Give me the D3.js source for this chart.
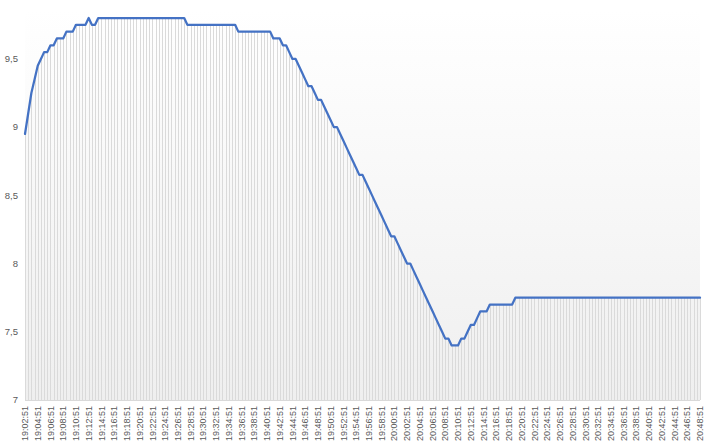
<!DOCTYPE html>
<html>
<head>
<meta charset="utf-8">
<script src="https://cdn.jsdelivr.net/npm/d3@7"></script>
<style>
  html, body { margin: 0; padding: 0; background: #ffffff; }
  svg { display: block; }
  text { font-family: "Liberation Sans", Arial, sans-serif; fill: #595959; }
</style>
</head>
<body>
<svg id="chart" width="707" height="445"></svg>
<script>
// ---- data ----
const startTime = "19:02:51";
const stepSeconds = 30;
const values = [
  8.95, 9.1, 9.25, 9.35, 9.45, 9.5, 9.55, 9.55, 9.6, 9.6,
  9.65, 9.65, 9.65, 9.7, 9.7, 9.7, 9.75, 9.75, 9.75, 9.75,
  9.8, 9.75, 9.75,
  9.8, 9.8, 9.8, 9.8, 9.8, 9.8, 9.8, 9.8, 9.8, 9.8,
  9.8, 9.8, 9.8, 9.8, 9.8, 9.8, 9.8, 9.8, 9.8, 9.8,
  9.8, 9.8, 9.8, 9.8, 9.8, 9.8, 9.8, 9.8,
  9.75, 9.75, 9.75, 9.75, 9.75, 9.75, 9.75, 9.75, 9.75, 9.75,
  9.75, 9.75, 9.75, 9.75, 9.75, 9.75,
  9.7, 9.7, 9.7, 9.7, 9.7, 9.7, 9.7, 9.7, 9.7, 9.7, 9.7,
  9.65, 9.65, 9.65,
  9.6, 9.6,
  9.55, 9.5, 9.5, 9.45, 9.4, 9.35, 9.3, 9.3, 9.25, 9.2,
  9.2, 9.15, 9.1, 9.05, 9.0, 9.0, 8.95, 8.9, 8.85, 8.8,
  8.75, 8.7, 8.65, 8.65, 8.6, 8.55, 8.5, 8.45, 8.4, 8.35,
  8.3, 8.25, 8.2, 8.2, 8.15, 8.1, 8.05, 8.0, 8.0, 7.95,
  7.9, 7.85, 7.8, 7.75, 7.7, 7.65, 7.6, 7.55, 7.5, 7.45,
  7.45, 7.4, 7.4, 7.4, 7.45, 7.45, 7.5, 7.55, 7.55, 7.6,
  7.65, 7.65, 7.65,
  7.7, 7.7, 7.7, 7.7, 7.7, 7.7, 7.7, 7.7,
  7.75, 7.75, 7.75, 7.75, 7.75, 7.75, 7.75, 7.75, 7.75, 7.75,
  7.75, 7.75, 7.75, 7.75, 7.75, 7.75, 7.75, 7.75, 7.75, 7.75,
  7.75, 7.75, 7.75, 7.75, 7.75, 7.75, 7.75, 7.75, 7.75, 7.75,
  7.75, 7.75, 7.75, 7.75, 7.75, 7.75, 7.75, 7.75, 7.75, 7.75,
  7.75, 7.75, 7.75, 7.75, 7.75, 7.75, 7.75, 7.75, 7.75, 7.75,
  7.75, 7.75, 7.75, 7.75, 7.75, 7.75, 7.75, 7.75, 7.75
];
const yTicks = [7, 7.5, 8, 8.5, 9, 9.5];
const labelEvery = 4;

// categories: timestamps every 30 s from the start time
const parseT = d3.timeParse("%H:%M:%S");
const fmtT = d3.timeFormat("%H:%M:%S");
const t0 = parseT(startTime);
const categories = values.map((v, i) => fmtT(new Date(t0.getTime() + i * stepSeconds * 1000)));
const tickLabels = categories.filter((c, i) => i % labelEvery === 0);

// ---- layout ----
const svg = d3.select("#chart");
const plot = { left: 25, right: 700, top: 18, bottom: 400 };

const x = d3.scalePoint().domain(categories).range([plot.left, plot.right]);
const y = d3.scaleLinear().domain([7, 9.8]).range([plot.bottom, plot.top]);

// background gradient
const defs = svg.append("defs");
const grad = defs.append("linearGradient").attr("id", "bg")
  .attr("x1", 0).attr("y1", 0).attr("x2", 0).attr("y2", 1);
grad.append("stop").attr("offset", "0%").attr("stop-color", "#ffffff");
grad.append("stop").attr("offset", "100%").attr("stop-color", "#efefef");

svg.append("rect")
  .attr("x", plot.left).attr("y", plot.top - 8)
  .attr("width", plot.right - plot.left).attr("height", plot.bottom - plot.top + 8)
  .attr("fill", "url(#bg)");

// drop lines
svg.append("g").selectAll("line")
  .data(values)
  .join("line")
  .attr("x1", (d, i) => Math.round(x(categories[i])) + 0.5)
  .attr("x2", (d, i) => Math.round(x(categories[i])) + 0.5)
  .attr("y1", d => y(d))
  .attr("y2", y(7))
  .attr("stroke", "#dadada")
  .attr("stroke-width", 1);

// x axis line
svg.append("line")
  .attr("x1", plot.left).attr("x2", plot.right)
  .attr("y1", y(7) + 0.5).attr("y2", y(7) + 0.5)
  .attr("stroke", "#d9d9d9").attr("stroke-width", 1);

// series line
const line = d3.line()
  .x((d, i) => x(categories[i]))
  .y(d => y(d));
svg.append("path")
  .datum(values)
  .attr("d", line)
  .attr("fill", "none")
  .attr("stroke", "#4472c4")
  .attr("stroke-width", 2.25)
  .attr("stroke-linejoin", "round")
  .attr("stroke-linecap", "round");

// y axis labels
const fmtY = v => d3.format("~g")(v).replace(".", ",");
svg.append("g").selectAll("text")
  .data(yTicks)
  .join("text")
  .attr("x", 18)
  .attr("y", d => y(d))
  .attr("dy", "0.35em")
  .attr("text-anchor", "end")
  .attr("font-size", "9.5px")
  .text(fmtY);

// x axis labels
svg.append("g").selectAll("text")
  .data(tickLabels)
  .join("text")
  .attr("transform", d => `translate(${x(d)},406) rotate(-90)`)
  .attr("dy", "0.35em")
  .attr("text-anchor", "end")
  .attr("font-size", "9px")
  .text(d => d);
</script>
</body>
</html>
